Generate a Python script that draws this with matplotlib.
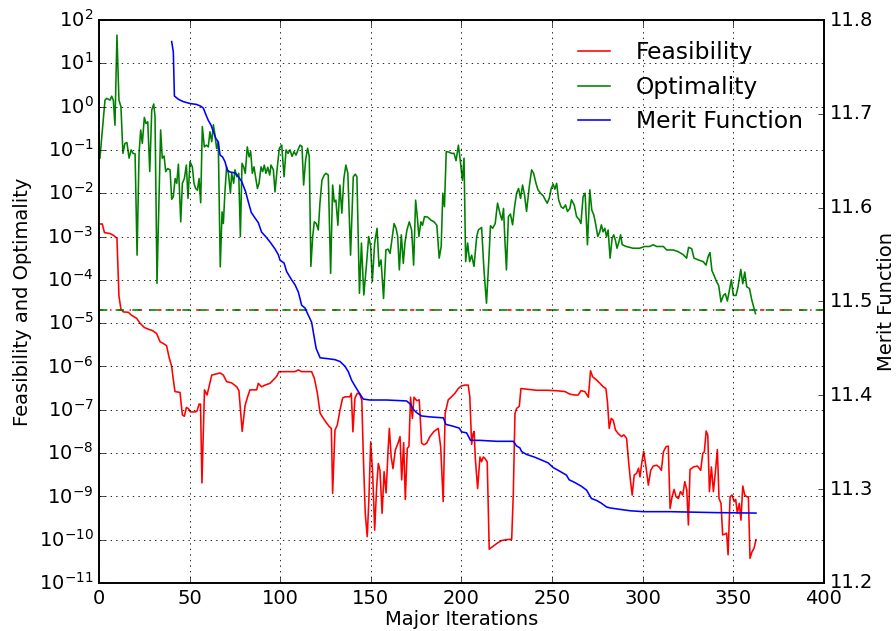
import matplotlib
matplotlib.use("Agg")
import matplotlib.pyplot as plt
import numpy as np
from matplotlib.ticker import NullLocator

plt.style.use("classic")
plt.rcParams["font.size"] = 14
plt.rcParams["lines.linewidth"] = 1.15
plt.rcParams["axes.linewidth"] = 1.2
plt.rcParams["grid.linewidth"] = 0.6

# values (log10 for the log-scaled series)
feas_iter = [0.6, 1.8, 3.0, 6.0, 7.9, 9.9, 11.0, 12.1, 13.4, 16.2, 18.0, 20.8, 22.6, 25.0, 27.2, 29.4, 31.8,
             33.7, 35.5, 37.3, 38.6, 40.1, 40.8, 41.9, 44.7, 46.0, 47.1, 48.2, 49.3, 50.4, 53.0, 54.1, 55.2,
             56.0, 56.8, 58.2, 59.6, 60.7, 62.2, 64.0, 66.8, 68.6, 70.4, 73.2, 76.0, 77.2, 79.0, 80.6, 82.0,
             83.3, 87.0, 87.9, 89.7, 91.6, 94.3, 96.2, 98.0, 99.3, 108.1, 110.0, 111.8, 117.3, 118.8, 120.5,
             122.0, 123.8, 125.6, 127.1, 128.2, 128.9, 130.2, 131.5, 133.0, 134.4, 135.9, 138.4, 139.2, 140.1,
             141.2, 142.5, 143.9, 145.0, 145.8, 146.9, 148.0, 148.9, 149.9, 151.0, 152.1, 153.2, 154.1, 155.0,
             156.2, 157.3, 158.4, 159.5, 160.2, 161.2, 162.2, 163.5, 165.0, 166.1, 167.0, 168.1, 169.0, 170.1,
             171.0, 171.9, 172.9, 173.8, 175.3, 176.7, 178.0, 179.3, 180.8, 182.6, 184.8, 187.2, 188.5, 189.9,
             191.0, 192.7, 194.5, 196.4, 198.2, 200.0, 201.9, 203.7, 204.6, 205.6, 206.4, 207.0, 207.6, 208.9,
             210.2, 211.1, 212.0, 212.9, 214.2, 215.3, 217.2, 219.4, 222.1, 224.9, 227.7, 228.6, 229.5, 230.4,
             231.9, 232.8, 236.9, 241.4, 247.0, 252.5, 257.1, 259.8, 262.6, 264.4, 265.9, 268.1, 270.0, 271.2,
             272.4, 274.5, 276.4, 278.2, 279.7, 280.6, 281.5, 282.6, 283.7, 285.0, 286.5, 288.3, 289.6, 291.1,
             292.3, 293.3, 294.2, 295.3, 296.6, 297.7, 298.5, 299.4, 300.5, 301.8, 303.1, 304.4, 305.8, 307.7,
             309.2, 310.3, 311.4, 312.9, 314.1, 315.1, 316.2, 317.3, 318.4, 319.7, 320.8, 322.1, 323.2, 324.3,
             325.2, 326.1, 328.0, 330.2, 332.0, 333.1, 334.0, 335.0, 335.9, 336.8, 337.9, 339.0, 340.1, 341.2,
             342.1, 343.2, 344.1, 345.4, 346.3, 347.1, 348.2, 349.3, 350.4, 351.3, 352.2, 353.3, 354.2, 355.2,
             356.3, 357.4, 358.3, 359.2, 360.3, 361.4, 362.5]
feas_log10 = [-2.71, -2.71, -2.91, -2.93, -2.97, -3.04, -4.37, -4.68, -4.74, -4.75, -4.82, -4.89, -5.0, -5.1,
              -5.14, -5.17, -5.24, -5.43, -5.47, -5.52, -5.78, -6.0, -6.24, -6.58, -6.6, -7.12, -7.15, -6.95,
              -6.97, -7.05, -7.05, -7.03, -6.87, -6.87, -8.69, -6.54, -6.66, -6.47, -6.2, -6.18, -6.15, -6.2,
              -6.35, -6.38, -6.47, -6.56, -7.5, -6.9, -6.7, -6.54, -6.54, -6.39, -6.47, -6.43, -6.39, -6.31,
              -6.23, -6.12, -6.12, -6.08, -6.12, -6.12, -6.27, -6.62, -7.08, -7.2, -7.31, -7.39, -7.43, -8.93,
              -7.47, -7.35, -7.0, -6.73, -6.70, -6.70, -6.62, -7.51, -6.73, -6.62, -6.64, -6.78, -8.01, -9.39,
              -9.93, -9.08, -7.74, -8.47, -9.78, -8.78, -8.24, -8.39, -9.39, -8.43, -8.92, -7.93, -7.43, -8.09,
              -8.36, -7.93, -7.77, -7.62, -8.62, -7.76, -9.07, -7.89, -7.85, -6.71, -7.2, -6.71, -6.79, -6.77,
              -7.77, -7.81, -7.77, -7.62, -7.5, -7.43, -7.85, -9.12, -7.08, -6.77, -6.70, -6.62, -6.51, -6.45,
              -6.43, -6.43, -6.7, -7.8, -7.55, -7.5, -8.1, -8.82, -8.09, -8.2, -8.09, -8.12, -8.2, -10.22,
              -10.16, -10.09, -10.02, -10.0, -9.99, -8.93, -7.09, -6.97, -6.92, -6.51, -6.53, -6.55, -6.55,
              -6.56, -6.58, -6.64, -6.66, -6.66, -6.56, -6.58, -6.71, -6.1, -6.24, -6.31, -6.39, -6.47, -6.51,
              -6.85, -7.43, -7.2, -7.24, -7.47, -7.55, -7.62, -7.58, -7.66, -8.24, -8.66, -8.97, -8.51, -8.47,
              -8.35, -8.55, -8.25, -7.96, -8.32, -8.74, -8.4, -8.30, -8.28, -8.33, -8.4, -7.97, -7.85, -7.84,
              -9.28, -9.01, -8.84, -9.01, -9.05, -8.89, -8.97, -8.66, -8.85, -9.66, -8.38, -8.32, -8.30, -8.4,
              -8.01, -7.97, -7.49, -7.59, -8.89, -8.32, -8.89, -8.43, -7.92, -9.05, -9.16, -9.89, -9.87, -9.85,
              -10.35, -9.01, -8.97, -9.12, -9.07, -9.39, -9.16, -9.55, -8.76, -8.97, -9.01, -9.01, -10.43,
              -10.28, -10.2, -10.0]

opt_iter = [0.5, 3.3, 4.2, 6.1, 7.0, 7.9, 8.8, 9.9, 11.0, 12.1, 13.2, 14.3, 15.4, 16.6, 17.7, 18.8, 19.9, 21.0,
            22.1, 23.0, 23.9, 25.0, 25.9, 26.9, 28.0, 29.1, 30.2, 30.9, 32.0, 33.1, 34.0, 34.9, 35.9, 36.8,
            37.9, 39.2, 40.1, 41.0, 42.0, 42.9, 43.8, 45.1, 46.0, 47.1, 48.2, 49.1, 50.2, 51.5, 52.4, 53.3,
            54.3, 55.2, 56.1, 57.0, 58.1, 59.2, 60.3, 61.2, 62.2, 63.1, 64.0, 64.9, 65.8, 66.9, 67.9, 68.6,
            69.5, 70.4, 71.4, 72.5, 73.2, 74.3, 75.0, 76.1, 77.1, 78.0, 78.9, 79.8, 80.7, 81.8, 82.8, 83.7,
            84.6, 85.5, 86.4, 87.4, 88.3, 89.4, 90.3, 91.2, 92.1, 93.1, 94.2, 94.9, 96.2, 97.1, 98.4, 99.5,
            100.8, 102.1, 103.2, 104.3, 105.4, 106.5, 107.6, 108.7, 109.8, 110.9, 112.0, 112.9, 114.0, 115.1,
            116.0, 116.9, 117.9, 118.8, 119.9, 121.0, 121.9, 123.0, 124.3, 125.2, 126.5, 127.8, 128.9, 129.8,
            130.7, 131.8, 132.9, 134.0, 135.1, 136.2, 137.3, 138.8, 140.3, 141.4, 142.3, 143.7, 144.8, 146.1,
            147.5, 148.8, 149.9, 150.8, 152.1, 153.4, 154.5, 155.6, 157.0, 158.3, 159.5, 160.6, 161.7, 162.8,
            163.9, 164.8, 165.7, 166.8, 167.9, 168.8, 169.9, 171.2, 172.5, 173.6, 174.7, 175.6, 176.5, 177.6,
            178.5, 179.6, 181.3, 183.1, 184.9, 186.4, 187.7, 188.8, 189.7, 190.6, 191.6, 193.1, 194.6, 195.9,
            197.0, 198.3, 199.4, 200.5, 201.4, 202.3, 203.4, 204.5, 205.6, 206.9, 208.4, 209.3, 211.1, 212.4,
            213.8, 214.9, 216.0, 217.2, 218.6, 219.9, 221.2, 222.3, 223.2, 223.9, 224.8, 225.9, 227.0, 228.2,
            229.3, 230.4, 231.5, 232.6, 233.7, 234.8, 235.9, 237.4, 238.7, 239.8, 241.1, 242.2, 243.6, 245.1,
            246.2, 247.3, 248.4, 249.5, 250.6, 251.5, 252.5, 253.6, 254.9, 256.1, 257.4, 258.5, 259.8, 260.7,
            262.2, 263.5, 264.8, 265.9, 267.1, 268.2, 269.5, 270.8, 271.9, 273.0, 274.1, 275.2, 276.3, 277.2,
            278.1, 279.1, 280.0, 280.9, 282.0, 283.1, 284.0, 284.9, 285.8, 286.7, 287.8, 288.7, 290.9, 294.6,
            298.3, 301.0, 303.8, 305.8, 307.7, 311.4, 313.2, 316.9, 319.6, 322.4, 324.2, 325.3, 327.0, 328.3,
            330.7, 333.4, 334.9, 336.2, 337.1, 338.2, 339.3, 340.8, 341.9, 343.2, 344.5, 345.6, 346.7, 347.8,
            348.9, 350.0, 351.5, 352.6, 354.1, 355.2, 356.3, 357.4, 358.9, 360.2, 362.2]
opt_log10 = [-1.19, 0.15, 0.19, 0.15, 0.24, 0.15, -0.43, 1.65, 0.15, 0.0, -1.08, -0.85, -0.83, -1.19, -1.0,
             -1.08, -1.09, -3.43, -1.08, -0.54, -0.85, -0.25, -0.39, -0.35, -1.5, -0.08, 0.06, -0.23, -4.08,
             -2.08, -0.54, -1.19, -1.14, -1.5, -1.43, -1.46, -2.14, -2.08, -1.66, -1.77, -1.33, -2.66, -1.77,
             -1.66, -1.35, -2.12, -1.27, -1.39, -1.77, -1.89, -1.93, -1.66, -2.22, -0.46, -0.93, -0.89, -0.93,
             -0.58, -0.81, -0.42, -0.66, -0.97, -0.81, -3.70, -2.43, -2.70, -1.96, -1.39, -1.54, -2.0, -1.54,
             -1.77, -1.46, -1.62, -1.54, -3.0, -1.31, -1.39, -1.54, -0.93, -1.16, -1.04, -1.54, -1.39, -1.62,
             -1.89, -1.77, -1.39, -1.5, -1.35, -1.54, -1.40, -1.58, -1.35, -1.46, -1.97, -1.39, -0.96, -0.89,
             -1.62, -1.0, -1.08, -1.0, -1.15, -1.04, -1.12, -1.0, -0.89, -0.92, -1.81, -1.23, -0.96, -1.15,
             -3.69, -3.0, -2.66, -2.7, -2.85, -2.23, -1.70, -1.58, -1.54, -1.58, -3.85, -1.81, -2.2, -2.16,
             -2.74, -1.81, -2.46, -1.66, -1.35, -1.54, -3.43, -1.62, -1.56, -1.62, -4.31, -3.15, -4.35, -3.69,
             -3.0, -3.23, -4.04, -3.15, -2.81, -3.69, -3.54, -4.43, -3.31, -3.29, -3.39, -3.04, -2.70, -2.81,
             -3.0, -3.77, -2.96, -3.62, -3.15, -2.85, -2.66, -2.85, -3.66, -2.16, -2.54, -3.0, -2.66, -2.74,
             -2.54, -2.55, -2.62, -2.66, -2.74, -3.5, -3.23, -2.0, -2.31, -1.04, -1.05, -1.08, -1.08, -1.25,
             -0.89, -1.27, -1.7, -1.19, -3.58, -3.15, -3.58, -3.43, -3.69, -3.0, -2.85, -2.79, -3.77, -4.54,
             -3.69, -2.75, -2.81, -2.70, -2.23, -2.46, -2.62, -2.35, -3.04, -3.77, -2.54, -2.48, -2.73, -2.31,
             -2.0, -1.89, -2.12, -1.81, -2.04, -2.42, -1.85, -1.46, -1.54, -1.77, -1.92, -2.0, -2.06, -2.15,
             -2.23, -2.12, -1.89, -1.79, -1.91, -1.77, -2.15, -2.31, -2.35, -2.27, -2.42, -2.35, -2.15, -2.27,
             -2.54, -2.6, -2.70, -2.08, -2.0, -3.19, -1.92, -2.39, -2.5, -2.73, -3.0, -2.89, -2.73, -2.89,
             -2.81, -3.0, -2.85, -3.5, -3.04, -2.96, -3.08, -3.27, -3.15, -2.96, -3.19, -3.23, -3.27, -3.27,
             -3.23, -3.23, -3.19, -3.23, -3.23, -3.31, -3.31, -3.35, -3.42, -3.5, -3.25, -3.28, -3.5, -3.54,
             -3.58, -3.66, -3.45, -3.37, -3.79, -3.89, -4.05, -4.13, -4.51, -4.36, -4.32, -4.49, -4.24, -4.0,
             -4.36, -4.36, -4.16, -3.76, -4.09, -3.82, -4.16, -4.2, -4.47, -4.78]

merit_iter = [40.1, 41.0, 41.6, 43.8, 46.5, 50.2, 53.9, 56.3, 57.6, 59.0, 60.3, 61.8, 63.1, 64.4, 65.8, 66.8,
              68.2, 69.5, 70.8, 72.3, 75.0, 76.9, 78.7, 80.9, 82.4, 84.0, 85.7, 87.9, 89.7, 92.5, 94.9, 97.1,
              98.9, 99.9, 102.1, 103.5, 106.3, 108.1, 110.0, 111.8, 113.7, 114.6, 117.3, 119.8, 122.0, 126.5,
              130.2, 133.0, 135.7, 137.6, 139.4, 141.2, 143.1, 145.8, 149.5, 158.7, 169.7, 171.6, 173.4, 175.6,
              178.0, 182.6, 190.0, 191.4, 195.5, 198.8, 200.1, 202.8, 205.0, 210.2, 219.4, 228.6, 230.4, 232.2,
              233.2, 235.9, 240.5, 244.2, 247.8, 250.6, 254.3, 257.9, 259.4, 262.6, 266.2, 269.0, 271.7, 274.5,
              277.2, 280.0, 281.9, 285.5, 292.9, 300.3, 315.0, 340.0, 362.5]
merit_val = [11.777, 11.766, 11.719, 11.7155, 11.713, 11.711, 11.710, 11.708, 11.706, 11.699, 11.693, 11.688,
             11.681, 11.674, 11.670, 11.656, 11.654, 11.649, 11.640, 11.638, 11.637, 11.633, 11.628, 11.617,
             11.606, 11.595, 11.590, 11.584, 11.574, 11.568, 11.562, 11.556, 11.550, 11.544, 11.541, 11.532,
             11.523, 11.518, 11.510, 11.496, 11.493, 11.489, 11.478, 11.450, 11.440, 11.439, 11.438, 11.436,
             11.431, 11.425, 11.416, 11.410, 11.404, 11.396, 11.395, 11.395, 11.394, 11.391, 11.385, 11.381,
             11.378, 11.377, 11.376, 11.369, 11.367, 11.365, 11.361, 11.360, 11.352, 11.352, 11.351, 11.351,
             11.346, 11.344, 11.340, 11.337, 11.334, 11.331, 11.328, 11.323, 11.319, 11.315, 11.310, 11.307,
             11.303, 11.299, 11.290, 11.288, 11.285, 11.281, 11.280, 11.279, 11.277, 11.276, 11.276, 11.275,
             11.2745]

tolerance = 2e-5

fig = plt.figure(figsize=(8.96, 6.31), dpi=100)
ax = fig.add_axes([0.1105, 0.0761, 0.8091, 0.8922])

l1, = ax.semilogy(feas_iter, 10.0 ** np.array(feas_log10), "r", label="Feasibility")
l2, = ax.semilogy(opt_iter, 10.0 ** np.array(opt_log10), "g", label="Optimality")
ax.axhline(tolerance, color="r", ls="-.")
ax.axhline(tolerance, color="g", ls="--")

ax.set_xlim(0, 400)
ax.set_ylim(1e-11, 1e2)
ax.set_yticks(10.0 ** np.arange(-11, 3))
ax.yaxis.set_minor_locator(NullLocator())
ax.grid(True)
ax.set_xlabel("Major Iterations", labelpad=2)
ax.set_ylabel("Feasibility and Optimality")

ax2 = ax.twinx()
l3, = ax2.plot(merit_iter, merit_val, "b", label="Merit Function")
ax2.set_ylim(11.2, 11.8)
ax2.ticklabel_format(axis="y", useOffset=False)
ax2.set_ylabel("Merit Function", labelpad=3)

ax2.legend([l1, l2, l3], ["Feasibility", "Optimality", "Merit Function"],
           loc="upper right", frameon=False)

fig.savefig("out.png", dpi=100)
